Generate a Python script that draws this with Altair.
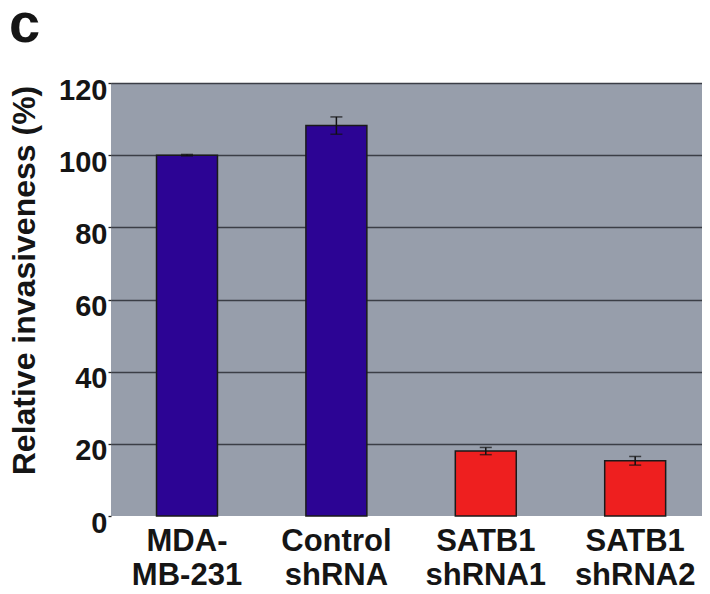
import altair as alt
import pandas as pd

categories = ["MDA-\nMB-231", "Control\nshRNA", "SATB1\nshRNA1", "SATB1\nshRNA2"]
values = [100.0, 108.2, 18.0, 15.3]
errors = [0.2, 2.4, 1.0, 1.2]
groups = ["control", "control", "knockdown", "knockdown"]
y_ticks = [0, 20, 40, 60, 80, 100, 120]
panel_label = ["c"]

df = pd.DataFrame({"cat": categories, "value": values, "err": errors, "group": groups})
df["lo"] = df["value"] - df["err"]
df["hi"] = df["value"] + df["err"]

FONT = "Liberation Sans"
TXT = "#151515"

xscale = alt.Scale(paddingInner=0.592, paddingOuter=0.274, align=0.556)

x_enc = alt.X(
    "cat:N", sort=categories, title=None, scale=xscale,
    axis=alt.Axis(labelAngle=0, labelExpr="split(datum.label, '\\n')",
                  labelFont=FONT, labelFontSize=31, labelFontWeight="bold",
                  labelColor=TXT, labelLineHeight=34, labelPadding=10,
                  labelBaseline="top", ticks=False, domain=False),
)

y_enc = alt.Y(
    "value:Q",
    scale=alt.Scale(domain=[0, 120], nice=False),
    axis=alt.Axis(values=y_ticks, title="Relative invasiveness (%)",
                  titleFont=FONT, titleFontSize=32, titleFontWeight="bold",
                  titleColor=TXT, titleX=-77, titleY=197, titleAngle=-90,
                  titleAlign="center", titleBaseline="alphabetic",
                  labelFont=FONT, labelFontSize=29, labelFontWeight="bold",
                  labelColor=TXT, labelOffset=7, labelPadding=1,
                  tickSize=3, tickColor="#222", tickWidth=1.3,
                  domain=False, grid=True, gridColor="#3b3e46", gridWidth=1.3,
                  gridOpacity=alt.condition("datum.value == 0", alt.value(0), alt.value(1))),
)

base = alt.Chart(df)

bars = base.mark_bar(stroke="#1a1a1a", strokeWidth=1.5).encode(
    x=x_enc, y=y_enc,
    color=alt.Color("group:N", scale=alt.Scale(domain=["control", "knockdown"],
                                               range=["#2c0494", "#ee1f1f"]), legend=None),
)

xs = alt.X("cat:N", sort=categories)
rules = base.mark_rule(color="#111111", strokeWidth=1.5).encode(x=xs, y="lo:Q", y2="hi:Q")
cap_hi = base.mark_tick(color="#111111", thickness=1.5, size=12).encode(x=xs, y="hi:Q")
cap_lo = base.mark_tick(color="#111111", thickness=1.5, size=12).encode(x=xs, y="lo:Q")

label = alt.Chart(pd.DataFrame({"t": panel_label})).mark_text(
    font=FONT, fontSize=56, fontWeight="bold", align="left", baseline="alphabetic",
    color=TXT).encode(text="t:N", x=alt.value(-102), y=alt.value(-41))

chart = alt.layer(bars, rules, cap_hi, cap_lo, label).properties(
    width=591, height=433,
    autosize=alt.AutoSizeParams(type="none"),
    padding={"left": 103, "top": 75, "right": 0, "bottom": 78},
    background="white",
).configure_view(fill="#979eab", strokeWidth=0)

chart.save("out.html", embed_options={"renderer": "svg", "actions": False})
